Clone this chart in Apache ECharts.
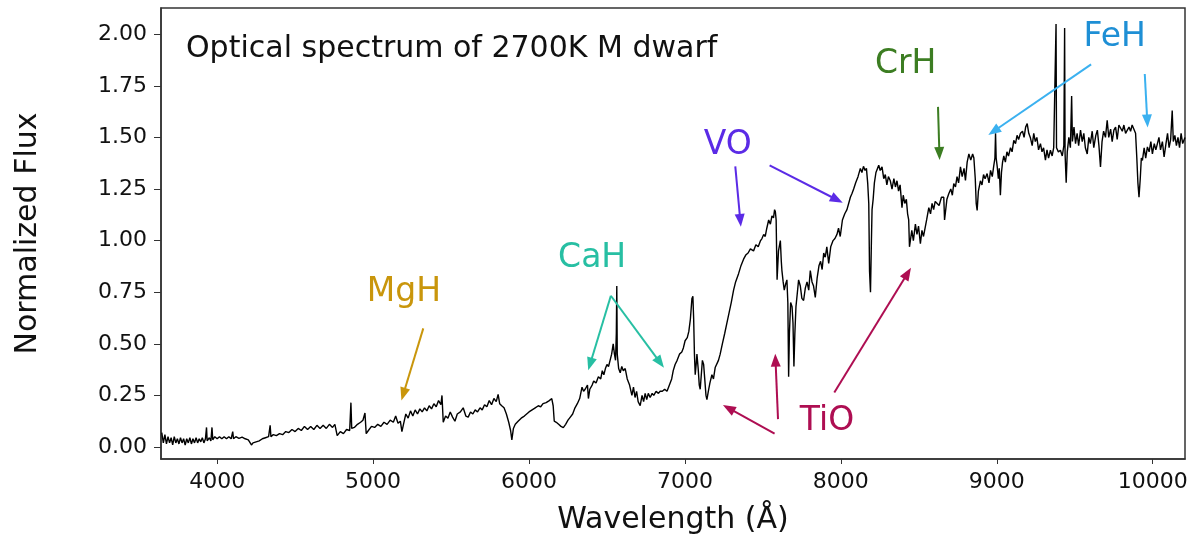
<!DOCTYPE html>
<html>
<head>
<meta charset="utf-8">
<script src="https://cdn.jsdelivr.net/npm/echarts@6/dist/echarts.min.js"></script>
<style>
html,body{margin:0;padding:0;background:#fff;}
#chart{width:1193px;height:537px;}
</style>
</head>
<body>
<div id="chart"></div>
<script>
// Wavelength (Å) and normalized flux
const wavelength = [
3645,3655,3665,3675,3685,3695,3705,3715,3725,3735,3745,3755,3765,3775,3785,3795,3805,3815,3825,3835,3845,3855,3865,3875,3885,3895,3905,3915,3925,3932,3936,3950,3960,3967,3972,3985,
4000,4015,4030,4045,4060,4075,4090,4100,4105,4120,4140,4160,4180,4200,4220,4230,4250,4270,4290,4310,4330,4340,4345,4360,4380,4400,4420,4440,4460,4480,4500,4520,4540,4560,4580,4600,4620,4640,4660,4680,4700,4720,4740,4755,4770,4790,4810,4830,4850,4858,4863,4880,4900,4920,4935,4948,4956,4970,4990,
5010,5030,5050,5070,5090,5110,5130,5145,5160,5175,5185,5195,5210,5225,5240,5255,5270,5285,5300,5315,5330,5345,5360,5375,5390,5405,5420,5435,5442,5450,5465,5480,5495,5510,5525,5540,5560,5578,5595,5610,5625,5640,5655,5670,5686,5700,5715,5730,5745,5760,5775,5790,5802,5812,5825,5840,5855,5870,5882,5890,5900,5912,5930,5950,5970,5985,
6000,6020,6040,6060,6075,6090,6110,6130,6146,6155,6162,6175,6190,6205,6220,6235,6250,6265,6280,6295,6310,6325,6340,6350,6360,6375,6381,6390,6405,6415,6430,6445,6460,6470,6480,6490,6500,6510,6520,6530,6540,6548,6555,6560,6563,6566,6575,6585,6595,6605,6617,6630,6645,6660,6670,6680,6690,6700,6713,6725,6735,6745,6755,6765,6777,6790,6800,6815,6830,6841,6855,6870,6885,6895,6905,6915,6925,6937,6950,6965,6980,6990,
7001,7015,7025,7035,7045,7051,7056,7061,7066,7072,7077,7085,7092,7098,7105,7112,7120,7127,7135,7141,7150,7160,7173,7183,7194,7205,7215,7226,7240,7255,7269,7283,7297,7312,7325,7344,7360,7376,7390,7405,7420,7440,7455,7470,7485,7494,7505,7515,7525,7537,7548,7558,7568,7575,7580,7585,7588,7591,7600,7612,7618,7622,7630,7637,7646,7654,7660,7665,7670,7678,7687,7693,7699,7705,7712,7720,7729,7740,7750,7761,7772,7783,7794,7804,7815,7825,7836,7848,7860,7870,7880,7890,7900,7910,7922,7935,7950,7962,7975,7985,7996,
8010,8025,8039,8050,8061,8072,8082,8095,8110,8125,8135,8145,8155,8164,8172,8179,8184,8190,8196,8200,8207,8215,8225,8235,8243,8252,8264,8275,8285,8295,8305,8317,8328,8340,8350,8360,8370,8380,8392,8400,8410,8420,8428,8435,8440,8446,8455,8465,8478,8488,8498,8510,8520,8530,8542,8550,8564,8575,8585,8595,8605,8617,8630,8645,8660,8665,8671,8680,8692,8705,8715,8724,8735,8745,8755,8767,8778,8790,8799,8810,8821,8833,8845,8853,8862,8868,8874,8882,8895,8905,8915,8925,8938,8950,8960,8971,8980,8988,8992,8996,
9003,9010,9016,9023,9030,9037,9045,9055,9065,9075,9088,9098,9109,9120,9130,9140,9152,9165,9175,9185,9195,9205,9215,9227,9237,9247,9257,9268,9280,9290,9300,9312,9322,9332,9344,9355,9365,9376,9380,9383,9395,9408,9420,9430,9435,9438,9445,9452,9462,9472,9480,9485,9495,9505,9515,9525,9537,9548,9558,9568,9580,9590,9600,9612,9622,9635,9645,9655,9665,9675,9685,9697,9708,9718,9730,9740,9751,9762,9772,9783,9794,9805,9815,9826,9837,9848,9858,9868,9880,9890,9898,9905,9912,9920,9927,9934,9945,9955,9966,9977,9988,9998,
10010,10020,10030,10040,10050,10062,10073,10085,10095,10105,10115,10125,10132,10142,10152,10162,10172,10182,10192,10202,10207
];
const flux = [
0.07,0.02,0.06,0.015,0.05,0.02,0.045,0.01,0.05,0.02,0.04,0.015,0.045,0.02,0.04,0.01,0.04,0.02,0.045,0.015,0.04,0.02,0.045,0.02,0.04,0.025,0.045,0.02,0.04,0.095,0.03,0.045,0.03,0.095,0.035,0.05,
0.04,0.05,0.04,0.05,0.04,0.05,0.04,0.075,0.04,0.05,0.042,0.048,0.04,0.035,0.01,0.02,0.025,0.03,0.04,0.045,0.05,0.105,0.05,0.06,0.055,0.065,0.06,0.075,0.07,0.085,0.075,0.09,0.08,0.1,0.085,0.1,0.085,0.105,0.09,0.105,0.09,0.11,0.095,0.11,0.055,0.075,0.065,0.085,0.08,0.215,0.09,0.095,0.11,0.12,0.13,0.165,0.065,0.08,0.1,
0.095,0.11,0.1,0.12,0.11,0.13,0.12,0.15,0.115,0.125,0.075,0.11,0.16,0.14,0.175,0.15,0.18,0.16,0.185,0.17,0.19,0.175,0.2,0.185,0.21,0.195,0.225,0.205,0.25,0.12,0.15,0.14,0.17,0.145,0.125,0.16,0.17,0.19,0.15,0.145,0.17,0.16,0.18,0.17,0.19,0.18,0.205,0.195,0.225,0.205,0.235,0.22,0.255,0.21,0.2,0.19,0.16,0.12,0.08,0.035,0.09,0.11,0.125,0.14,0.15,0.16,
0.17,0.18,0.19,0.2,0.195,0.21,0.215,0.225,0.235,0.2,0.125,0.12,0.11,0.1,0.094,0.11,0.13,0.145,0.16,0.19,0.21,0.235,0.29,0.27,0.28,0.3,0.235,0.28,0.3,0.32,0.31,0.34,0.33,0.37,0.35,0.38,0.4,0.39,0.42,0.45,0.5,0.45,0.42,0.55,0.78,0.45,0.38,0.36,0.39,0.37,0.38,0.33,0.3,0.25,0.29,0.24,0.27,0.22,0.2,0.25,0.22,0.26,0.23,0.26,0.24,0.26,0.25,0.27,0.26,0.27,0.27,0.28,0.27,0.29,0.29,0.33,0.37,0.4,0.42,0.45,0.46,0.48,
0.515,0.53,0.56,0.62,0.72,0.73,0.62,0.45,0.35,0.4,0.45,0.38,0.3,0.28,0.35,0.42,0.4,0.33,0.25,0.23,0.27,0.31,0.35,0.33,0.385,0.38,0.42,0.45,0.5,0.55,0.6,0.65,0.7,0.76,0.8,0.84,0.88,0.91,0.93,0.94,0.96,0.95,0.98,0.97,1.0,1.01,1.03,1.02,1.06,1.1,1.08,1.12,1.11,1.15,1.14,1.1,0.95,0.81,0.95,1.0,0.9,0.855,0.8,0.76,0.79,0.81,0.7,0.34,0.55,0.7,0.68,0.6,0.39,0.55,0.68,0.74,0.81,0.78,0.72,0.71,0.77,0.8,0.76,0.855,0.8,0.78,0.725,0.82,0.88,0.9,0.86,0.94,0.92,0.97,0.89,0.97,1.0,1.01,1.03,1.06,1.02,
1.1,1.13,1.15,1.18,1.21,1.23,1.25,1.28,1.31,1.35,1.33,1.36,1.34,1.35,1.28,1.18,0.85,0.75,1.0,1.15,1.2,1.28,1.33,1.35,1.365,1.34,1.357,1.3,1.32,1.27,1.31,1.29,1.25,1.3,1.26,1.29,1.24,1.27,1.16,1.22,1.18,1.2,1.13,1.1,0.97,0.97,1.05,1.0,1.08,1.03,1.07,0.985,1.05,1.02,1.017,1.1,1.16,1.13,1.18,1.15,1.19,1.195,1.17,1.21,1.21,1.1,1.1,1.2,1.227,1.25,1.22,1.276,1.26,1.31,1.28,1.357,1.31,1.35,1.292,1.38,1.42,1.39,1.42,1.4,1.3,1.18,1.146,1.24,1.29,1.27,1.32,1.3,1.325,1.28,1.34,1.31,1.36,1.4,1.52,1.4,
1.357,1.3,1.35,1.22,1.33,1.38,1.41,1.38,1.43,1.41,1.45,1.43,1.486,1.47,1.51,1.49,1.52,1.53,1.5,1.55,1.567,1.52,1.5,1.46,1.52,1.48,1.5,1.44,1.47,1.43,1.45,1.39,1.44,1.4,1.438,1.41,1.45,1.454,2.05,1.45,1.43,1.438,1.41,1.46,2.03,1.42,1.28,1.43,1.5,1.45,1.7,1.48,1.55,1.47,1.52,1.46,1.535,1.48,1.52,1.45,1.42,1.5,1.47,1.53,1.45,1.51,1.535,1.46,1.357,1.48,1.53,1.5,1.583,1.5,1.54,1.48,1.535,1.55,1.49,1.56,1.567,1.53,1.56,1.52,1.535,1.55,1.53,1.56,1.567,1.52,1.4,1.28,1.21,1.3,1.4,1.389,1.45,1.4,1.454,1.43,1.48,1.42,
1.47,1.44,1.47,1.5,1.44,1.48,1.405,1.47,1.52,1.45,1.49,1.63,1.48,1.51,1.46,1.5,1.45,1.52,1.47,1.49,1.5
];

const xTicks = [4000,5000,6000,7000,8000,9000,10000];
const yTicks = [0,0.25,0.5,0.75,1.0,1.25,1.5,1.75,2.0];

// Annotation labels
const labelNames  = ['MgH','CaH','VO','TiO','CrH','FeH'];
const labelWl     = [5198, 6405, 7274, 7911, 8416, 9756];
const labelFlux   = [0.748, 0.913, 1.462, 0.126, 1.852, 1.984];
const labelColors = ['#C9960C','#27BFA3','#5B2BE6','#AE0E52','#3C7D22','#1E8FD5'];

// Arrows (tail -> head)
const arrowFromWl   = [5322, 6525, 6525, 7323, 7543, 7575, 7597, 7958, 8623, 9605, 9949];
const arrowFromFlux = [0.575,0.733,0.733,1.360,1.365,0.065,0.135,0.264,1.648,1.854,1.807];
const arrowToWl     = [5194, 6392, 6841, 7355, 7975, 7280, 7581, 8428, 8632, 8980, 9965];
const arrowToFlux   = [0.256,0.402,0.409,1.098,1.198,0.188,0.421,0.842,1.422,1.530,1.580];
const arrowColors   = ['#C9960C','#27BFA3','#27BFA3','#5B2BE6','#5B2BE6','#AE0E52','#AE0E52','#AE0E52','#3C7D22','#3BB1F0','#3BB1F0'];

const series = wavelength.map((w, i) => [w, flux[i]]);

const annFont = "'DejaVu Sans', sans-serif";

const markPts = labelNames.map((n, i) => ({
  coord: [labelWl[i], labelFlux[i]],
  symbol: 'circle', symbolSize: 0,
  label: { show: true, formatter: n, position: 'inside', color: labelColors[i],
           fontSize: 33, fontFamily: annFont }
}));

const markLines = arrowFromWl.map((w, i) => [
  { coord: [w, arrowFromFlux[i]], symbol: 'none',
    lineStyle: { color: arrowColors[i], width: 2, type: 'solid' },
    itemStyle: { color: arrowColors[i] } },
  { coord: [arrowToWl[i], arrowToFlux[i]], symbol: 'triangle', symbolSize: [10, 13],
    itemStyle: { color: arrowColors[i] } }
]);

const chart = echarts.init(document.getElementById('chart'), null, { renderer: 'canvas' });
chart.setOption({
  animation: false,
  backgroundColor: '#ffffff',
  title: {
    text: 'Optical spectrum of 2700K M dwarf',
    left: 181, top: 29,
    textStyle: { fontSize: 30, fontWeight: 'normal', color: '#111', fontFamily: annFont }
  },
  grid: { left: 161, right: 8, top: 8, bottom: 78, show: true, borderColor: '#333', borderWidth: 1.5,
          backgroundColor: 'transparent', outerBoundsMode: 'none', containLabel: false },
  xAxis: {
    type: 'value', min: 3640, max: 10207,
    name: 'Wavelength (Å)', nameLocation: 'middle', nameGap: 46,
    nameTextStyle: { fontSize: 30, fontFamily: annFont, color: '#111' },
    axisLine: { show: true, onZero: false, lineStyle: { color: '#333', width: 1.5 } },
    axisTick: { show: true, length: 5, lineStyle: { color: '#333' }, customValues: xTicks },
    axisLabel: { fontSize: 22, color: '#111', fontFamily: "'DejaVu Sans', sans-serif", margin: 12,
                 customValues: xTicks, formatter: v => String(Math.round(v)) },
    splitLine: { show: false }
  },
  yAxis: {
    type: 'value', min: -0.058, max: 2.127,
    name: 'Normalized Flux', nameLocation: 'middle', nameGap: 118, nameRotate: 90,
    nameTextStyle: { fontSize: 30, fontFamily: annFont, color: '#111' },
    axisLine: { show: true, onZero: false, lineStyle: { color: '#333', width: 1.5 } },
    axisTick: { show: true, length: 7, lineStyle: { color: '#333' }, customValues: yTicks },
    axisLabel: { fontSize: 22, color: '#111', fontFamily: "'DejaVu Sans', sans-serif", margin: 14,
                 customValues: yTicks, formatter: v => v.toFixed(2) },
    splitLine: { show: false }
  },
  series: [{
    type: 'line', data: series, showSymbol: false, symbol: 'none',
    lineStyle: { color: '#000', width: 1.4 },
    silent: true,
    markPoint: { silent: true, data: markPts },
    markLine: { silent: true, symbol: ['none', 'triangle'], symbolSize: 12,
                label: { show: false }, data: markLines }
  }]
});
</script>
</body>
</html>
